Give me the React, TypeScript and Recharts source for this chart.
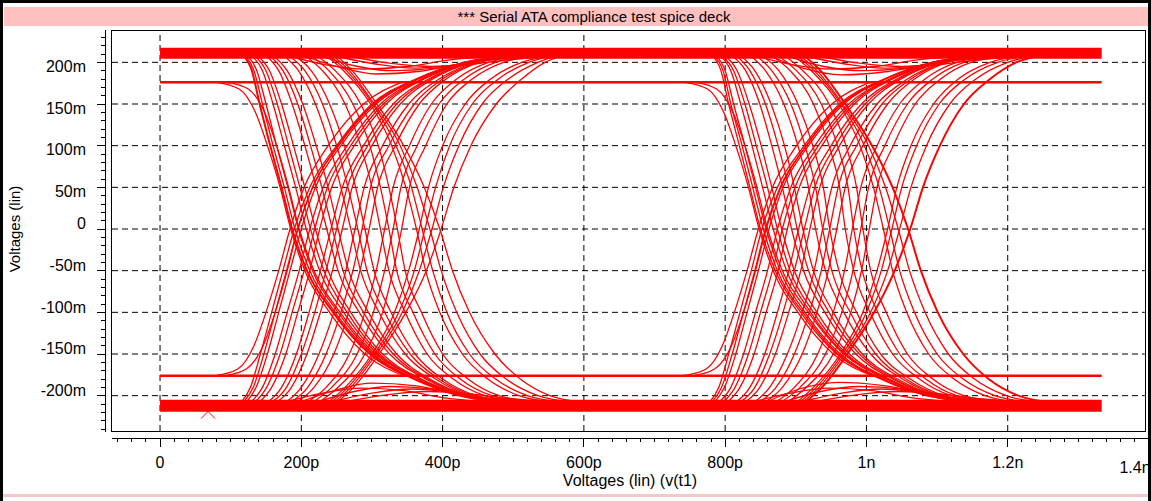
import { ComposedChart, Line, XAxis, YAxis, ReferenceLine, Scatter } from "recharts";

// axis ticks and labels
const X_MAJOR = [0, 200, 400, 600, 800, 1000, 1200, 1400];
const X_LABELS = ["0", "200p", "400p", "600p", "800p", "1n", "1.2n", "1.4n"];
const Y_MAJOR = [200, 150, 100, 50, 0, -50, -100, -150, -200];
const Y_LABELS = ["200m", "150m", "100m", "50m", "0", "-50m", "-100m", "-150m", "-200m"];
const X_TICKS = Array.from({ length: 74 }, (_, i) => -60 + i * 20);
const Y_TICKS = Array.from({ length: 48 }, (_, i) => -240 + i * 10);

// steady levels (mV) over the 2-UI window (ps)
const WINDOW = [0, 1333];
const BAND_HIGH = 211;
const BAND_LOW = -212;
const SHELF_HIGH = 176;
const SHELF_LOW = -176;

// voltage levels at which edge times were read
const FALL_LEVELS = [208, 190, 150, 100, 50, 0, -50, -100, -150, -180, -200, -208];
const RISE_LEVELS = [-208, -190, -150, -100, -50, 0, 50, 100, 150, 180, 200, 208];
const FALL_LOW_LEVELS = [176, 168, 140, 100, 50, 0, -50, -100, -150, -176];
const RISE_LOW_LEVELS = [-176, -168, -140, -100, -50, 0, 50, 100, 150, 176];

// first crossing: time (ps) at each level
const FALL_1 = [
  [118, 130, 141, 156, 172, 187, 208, 245, 297, 360, 425, 500],
  [124, 137, 150, 165, 181, 196, 216, 252, 302, 362, 428, 505],
  [130, 145, 160, 176, 192, 207, 226, 260, 308, 366, 430, 505],
  [138, 155, 172, 189, 205, 220, 238, 270, 315, 370, 432, 500],
  [150, 168, 187, 205, 221, 236, 252, 282, 325, 376, 435, 505],
  [160, 180, 202, 221, 238, 252, 267, 295, 335, 382, 437, 500],
  [175, 196, 220, 240, 256, 270, 284, 310, 347, 390, 440, 505],
  [190, 214, 240, 261, 277, 290, 303, 327, 361, 400, 448, 510],
  [205, 230, 262, 284, 300, 312, 324, 347, 378, 415, 460, 520],
  [222, 248, 284, 309, 324, 336, 347, 370, 400, 436, 480, 540],
  [235, 260, 298, 328, 348, 363, 376, 396, 428, 464, 508, 558],
  [245, 268, 303, 340, 364, 382, 398, 420, 453, 490, 535, 585],
  [250, 272, 307, 345, 374, 396, 414, 438, 474, 510, 552, 598],
  [121, 133, 145, 160, 176, 191, 212, 248, 300, 361, 426, 502],
  [134, 150, 166, 182, 198, 213, 232, 265, 311, 368, 431, 502],
  [155, 174, 195, 213, 229, 244, 259, 288, 330, 379, 436, 502],
  [182, 205, 230, 250, 266, 280, 293, 318, 354, 395, 444, 508],
  [214, 239, 273, 297, 312, 324, 335, 358, 389, 425, 470, 530],
  [240, 264, 301, 334, 356, 371, 386, 406, 438, 475, 520, 570],
];
const RISE_1 = [
  [115, 128, 142, 158, 174, 190, 212, 250, 300, 362, 430, 500],
  [122, 136, 152, 168, 184, 200, 220, 256, 306, 366, 432, 505],
  [128, 145, 163, 180, 197, 212, 231, 265, 312, 370, 436, 500],
  [140, 158, 178, 195, 212, 226, 243, 275, 320, 374, 438, 505],
  [152, 172, 193, 211, 227, 242, 258, 288, 330, 380, 440, 500],
  [165, 186, 208, 227, 244, 258, 272, 300, 340, 386, 442, 505],
  [178, 200, 225, 246, 263, 276, 289, 315, 352, 395, 446, 500],
  [193, 218, 246, 267, 283, 296, 308, 333, 367, 405, 452, 510],
  [208, 235, 268, 290, 306, 318, 330, 353, 384, 420, 465, 520],
  [225, 252, 290, 315, 330, 342, 353, 376, 406, 442, 486, 535],
  [238, 262, 300, 332, 352, 367, 380, 400, 432, 468, 512, 552],
  [246, 270, 306, 343, 367, 385, 401, 423, 456, 493, 535, 563],
  [250, 274, 310, 348, 377, 398, 416, 440, 476, 512, 545, 570],
  [118, 132, 147, 163, 179, 195, 216, 253, 303, 364, 431, 502],
  [134, 151, 170, 187, 204, 219, 237, 270, 316, 372, 437, 502],
  [158, 179, 200, 219, 235, 250, 265, 294, 335, 383, 441, 502],
  [185, 209, 235, 256, 273, 286, 298, 324, 360, 400, 449, 505],
  [216, 243, 279, 302, 318, 330, 341, 364, 395, 431, 475, 528],
  [242, 266, 303, 338, 360, 375, 390, 410, 442, 479, 522, 556],
];
const FALL_LOW_1 = [
  [80, 112, 135, 152, 170, 185, 205, 240, 290, 345],
  [95, 125, 148, 165, 182, 197, 218, 255, 305, 360],
];
const RISE_LOW_1 = [
  [78, 110, 133, 150, 168, 184, 204, 238, 288, 342],
  [92, 122, 146, 163, 180, 195, 216, 252, 302, 358],
];

// second crossing
const FALL_2 = [
  [782, 794, 805, 820, 835, 850, 871, 907, 958, 1020, 1085, 1160],
  [787, 800, 812, 828, 843, 858, 878, 913, 963, 1024, 1088, 1162],
  [793, 808, 822, 838, 853, 868, 887, 921, 969, 1028, 1090, 1165],
  [800, 817, 834, 851, 866, 880, 898, 930, 976, 1032, 1093, 1160],
  [810, 829, 849, 866, 881, 894, 911, 941, 985, 1037, 1096, 1165],
  [822, 842, 865, 884, 898, 910, 925, 953, 994, 1044, 1100, 1160],
  [836, 857, 883, 903, 918, 928, 942, 968, 1006, 1051, 1103, 1165],
  [852, 876, 903, 924, 939, 948, 961, 986, 1020, 1062, 1110, 1170],
  [866, 892, 925, 947, 962, 970, 982, 1005, 1037, 1075, 1120, 1180],
  [884, 910, 947, 971, 986, 995, 1006, 1028, 1058, 1094, 1138, 1195],
  [897, 922, 961, 991, 1010, 1024, 1037, 1057, 1088, 1124, 1168, 1218],
  [906, 930, 966, 1003, 1027, 1045, 1061, 1083, 1116, 1153, 1198, 1246],
  [912, 935, 970, 1008, 1037, 1059, 1077, 1101, 1137, 1173, 1215, 1260],
  [784, 797, 808, 824, 839, 854, 874, 910, 960, 1022, 1086, 1160],
  [796, 812, 828, 844, 860, 874, 892, 925, 972, 1030, 1092, 1162],
  [816, 835, 857, 875, 890, 902, 918, 947, 990, 1040, 1098, 1162],
  [844, 866, 893, 913, 928, 938, 951, 977, 1013, 1056, 1106, 1168],
  [875, 901, 936, 959, 974, 982, 994, 1016, 1047, 1084, 1128, 1188],
  [902, 926, 964, 997, 1018, 1033, 1047, 1068, 1100, 1137, 1182, 1232],
];
const RISE_2 = [
  [778, 791, 805, 821, 837, 852, 874, 912, 962, 1025, 1092, 1165],
  [785, 799, 815, 831, 847, 862, 882, 918, 968, 1028, 1094, 1170],
  [791, 808, 826, 843, 860, 874, 893, 927, 975, 1033, 1098, 1165],
  [803, 821, 841, 858, 875, 888, 905, 937, 983, 1037, 1100, 1170],
  [815, 835, 856, 874, 890, 904, 920, 950, 993, 1043, 1102, 1165],
  [828, 849, 871, 890, 907, 920, 934, 962, 1003, 1049, 1105, 1170],
  [841, 863, 888, 909, 926, 938, 951, 977, 1015, 1058, 1108, 1165],
  [856, 881, 909, 930, 946, 958, 970, 995, 1030, 1068, 1115, 1175],
  [871, 898, 931, 953, 969, 980, 992, 1015, 1047, 1083, 1128, 1185],
  [888, 915, 953, 978, 993, 1004, 1015, 1038, 1069, 1105, 1148, 1205],
  [901, 925, 963, 995, 1015, 1030, 1043, 1063, 1095, 1130, 1175, 1222],
  [909, 933, 969, 1006, 1030, 1047, 1063, 1085, 1118, 1155, 1200, 1238],
  [913, 937, 973, 1011, 1040, 1062, 1080, 1104, 1138, 1175, 1212, 1245],
  [781, 795, 810, 826, 842, 857, 878, 915, 965, 1026, 1093, 1167],
  [797, 814, 833, 850, 867, 881, 899, 932, 979, 1035, 1099, 1167],
  [821, 842, 863, 882, 898, 912, 927, 956, 998, 1046, 1103, 1167],
  [848, 872, 898, 919, 936, 948, 960, 986, 1022, 1063, 1111, 1170],
  [879, 906, 942, 965, 981, 992, 1003, 1026, 1058, 1094, 1138, 1195],
  [905, 929, 966, 1000, 1021, 1036, 1050, 1071, 1103, 1140, 1186, 1230],
];
const FALL_LOW_2 = [
  [743, 775, 798, 815, 833, 848, 868, 903, 953, 1008],
  [758, 788, 811, 828, 845, 860, 881, 918, 968, 1023],
];
const RISE_LOW_2 = [
  [741, 773, 796, 813, 831, 847, 867, 901, 951, 1005],
  [755, 785, 809, 826, 843, 858, 879, 915, 965, 1021],
];

// ripples that stay near the rails: [t, v]
const RIPPLE_LOW = [
  [[200, -207], [250, -193], [300, -185], [360, -188], [430, -200], [480, -207]],
  [[225, -207], [275, -195], [325, -189], [385, -192], [450, -202], [505, -207]],
  [[180, -207], [230, -197], [285, -191], [345, -194], [405, -203], [455, -207]],
  [[245, -207], [300, -197], [355, -192], [415, -196], [475, -204], [525, -207]],
  [[265, -207], [320, -199], [380, -195], [440, -198], [500, -204], [550, -207]],
  [[860, -207], [905, -192], [960, -184], [1025, -188], [1095, -200], [1145, -207]],
  [[885, -207], [935, -195], [990, -189], [1050, -192], [1115, -202], [1170, -207]],
  [[842, -207], [892, -197], [948, -191], [1008, -194], [1068, -203], [1118, -207]],
  [[910, -207], [965, -197], [1020, -192], [1078, -196], [1138, -204], [1190, -207]],
  [[930, -207], [985, -199], [1045, -195], [1105, -198], [1165, -204], [1215, -207]],
];
const RIPPLE_HIGH = [
  [[205, 207], [255, 194], [305, 186], [365, 189], [435, 200], [485, 207]],
  [[230, 207], [280, 195], [330, 190], [390, 193], [455, 202], [510, 207]],
  [[185, 207], [235, 197], [290, 192], [350, 195], [410, 203], [460, 207]],
  [[250, 207], [305, 198], [360, 193], [420, 197], [480, 204], [530, 207]],
  [[270, 207], [325, 199], [385, 195], [445, 198], [505, 204], [555, 207]],
  [[865, 207], [910, 193], [965, 185], [1030, 189], [1100, 200], [1150, 207]],
  [[890, 207], [940, 195], [995, 190], [1055, 193], [1120, 202], [1175, 207]],
  [[846, 207], [896, 197], [952, 192], [1012, 195], [1072, 203], [1122, 207]],
  [[915, 207], [970, 198], [1025, 193], [1083, 197], [1143, 204], [1195, 207]],
  [[935, 207], [990, 199], [1050, 195], [1110, 198], [1170, 204], [1220, 207]],
];

// cursor marker
const MARKER = [{ t: 68, v: -219 }];

const RED = "#ff0000";
const FONT = "'Liberation Sans', Arial, sans-serif";

const toPts = (times: number[], levels: number[]) => times.map((t, i) => ({ t, v: levels[i] }));
const pairPts = (pairs: number[][]) => pairs.map(([t, v]) => ({ t, v }));
const flat = (v: number) => [{ t: WINDOW[0], v }, { t: WINDOW[1], v }];

function XTick(props: any) {
  const { x, payload } = props;
  const i = X_MAJOR.indexOf(payload.value);
  const last = payload.value === 1400;
  return (
    <g>
      <line x1={x} x2={x} y1={438} y2={i >= 0 ? 447 : 442} stroke="#000" shapeRendering="crispEdges" />
      {i >= 0 && (
        <text x={last ? 1135 : x} y={last ? 473 : 468} textAnchor="middle" fontFamily={FONT} fontSize={16} fill="#000">
          {X_LABELS[i]}
        </text>
      )}
    </g>
  );
}

function YTick(props: any) {
  const { y, payload } = props;
  const i = Y_MAJOR.indexOf(payload.value);
  return (
    <g>
      <line x1={i >= 0 ? 97 : 101} x2={106} y1={y} y2={y} stroke="#000" shapeRendering="crispEdges" />
      {i >= 0 && (
        <text x={86} y={payload.value > 0 ? y + 9.5 : y + 0.3} textAnchor="end" fontFamily={FONT} fontSize={16} fill="#000">
          {Y_LABELS[i]}
        </text>
      )}
    </g>
  );
}

const Cross = (props: any) => {
  const { cx, cy } = props;
  return (
    <g stroke={RED} strokeWidth={1}>
      <line x1={cx - 7} y1={cy - 7} x2={cx + 7} y2={cy + 7} />
      <line x1={cx + 7} y1={cy - 7} x2={cx - 7} y2={cy + 7} />
    </g>
  );
};

const lineProps = {
  type: "monotone" as const,
  dataKey: "v",
  stroke: RED,
  dot: false,
  activeDot: false,
  isAnimationActive: false,
  legendType: "none" as const,
};

export default function App() {
  const series: { key: string; data: { t: number; v: number }[]; w: number }[] = [];
  FALL_1.forEach((r, i) => series.push({ key: `f1-${i}`, data: toPts(r, FALL_LEVELS), w: i === 0 ? 2 : 1.3 }));
  RISE_1.forEach((r, i) => series.push({ key: `r1-${i}`, data: toPts(r, RISE_LEVELS), w: 1.3 }));
  FALL_LOW_1.forEach((r, i) => series.push({ key: `fl1-${i}`, data: toPts(r, FALL_LOW_LEVELS), w: 1.3 }));
  RISE_LOW_1.forEach((r, i) => series.push({ key: `rl1-${i}`, data: toPts(r, RISE_LOW_LEVELS), w: 1.3 }));
  FALL_2.forEach((r, i) => series.push({ key: `f2-${i}`, data: toPts(r, FALL_LEVELS), w: i === 12 ? 2 : 1.3 }));
  RISE_2.forEach((r, i) => series.push({ key: `r2-${i}`, data: toPts(r, RISE_LEVELS), w: i === 12 ? 2 : 1.3 }));
  FALL_LOW_2.forEach((r, i) => series.push({ key: `fl2-${i}`, data: toPts(r, FALL_LOW_LEVELS), w: 1.3 }));
  RISE_LOW_2.forEach((r, i) => series.push({ key: `rl2-${i}`, data: toPts(r, RISE_LOW_LEVELS), w: 1.3 }));
  RIPPLE_LOW.forEach((r, i) => series.push({ key: `pl-${i}`, data: pairPts(r), w: 1.3 }));
  RIPPLE_HIGH.forEach((r, i) => series.push({ key: `ph-${i}`, data: pairPts(r), w: 1.3 }));

  return (
    <div style={{ position: "absolute", left: 0, top: 0, width: 1151, height: 501, background: "#fff", overflow: "hidden" }}>
      <svg width={1151} height={501} style={{ position: "absolute", left: 0, top: 0 }}>
        <rect x={4} y={7} width={1144} height={19} fill="#ffc0c0" />
        <text x={594} y={22} textAnchor="middle" fontFamily={FONT} fontSize={15} fill="#000">
          ***  Serial ATA compliance test spice deck
        </text>
        <rect x={0} y={494} width={1151} height={3} fill="#f2c8c8" />
      </svg>
      <div style={{ position: "absolute", left: 0, top: 0 }}>
        <ComposedChart width={1151} height={501} margin={{ top: 30, right: 2, bottom: 0, left: 0 }}>
          <XAxis
            type="number"
            dataKey="t"
            domain={[-68, 1400]}
            ticks={X_TICKS}
            interval={0}
            tick={<XTick />}
            axisLine={false}
            tickLine={false}
            tickMargin={0}
            height={70}
            allowDataOverflow
          />
          <YAxis
            type="number"
            dataKey="v"
            domain={[-242.4, 238.8]}
            ticks={Y_TICKS}
            interval={0}
            tick={<YTick />}
            axisLine={false}
            tickLine={false}
            tickMargin={0}
            width={112}
            allowDataOverflow
          />
          {X_MAJOR.slice(0, 7).map((t) => (
            <ReferenceLine key={`gx${t}`} x={t} stroke="#000" strokeDasharray="6 4" ifOverflow="hidden" />
          ))}
          {Y_MAJOR.map((v) => (
            <ReferenceLine
              key={`gy${v}`}
              segment={[{ x: -68, y: v }, { x: 1394, y: v }]}
              stroke="#000"
              strokeDasharray="6 4"
            />
          ))}
          <Scatter data={MARKER} dataKey="v" shape={<Cross />} isAnimationActive={false} legendType="none" />
          {series.map((s) => (
            <Line key={s.key} {...lineProps} data={s.data} strokeWidth={s.w} />
          ))}
          <Line {...lineProps} type="linear" data={flat(SHELF_HIGH)} strokeWidth={2.5} />
          <Line {...lineProps} type="linear" data={flat(SHELF_LOW)} strokeWidth={2.5} />
          <Line {...lineProps} type="linear" data={flat(BAND_HIGH)} strokeWidth={11} />
          <Line {...lineProps} type="linear" data={flat(BAND_LOW)} strokeWidth={12} />
        </ComposedChart>
      </div>
      <svg width={1151} height={501} style={{ position: "absolute", left: 0, top: 0, pointerEvents: "none" }}>
        <g fill="none" stroke="#000" shapeRendering="crispEdges">
          <path d="M1.5 501 V1.5 H1149.5 V501" strokeWidth={3} />
          <rect x={111.5} y={30.5} width={1034} height={401} strokeWidth={1.5} />
          <line x1={105.5} x2={105.5} y1={30} y2={432} />
          <line x1={112} x2={1150} y1={438.5} y2={438.5} />
        </g>
        <text transform="translate(20,229) rotate(-90)" textAnchor="middle" fontFamily={FONT} fontSize={15} fill="#000">
          Voltages (lin)
        </text>
        <text x={630} y={486} textAnchor="middle" fontFamily={FONT} fontSize={16} fill="#000">
          Voltages (lin) (v(t1)
        </text>
      </svg>
    </div>
  );
}
